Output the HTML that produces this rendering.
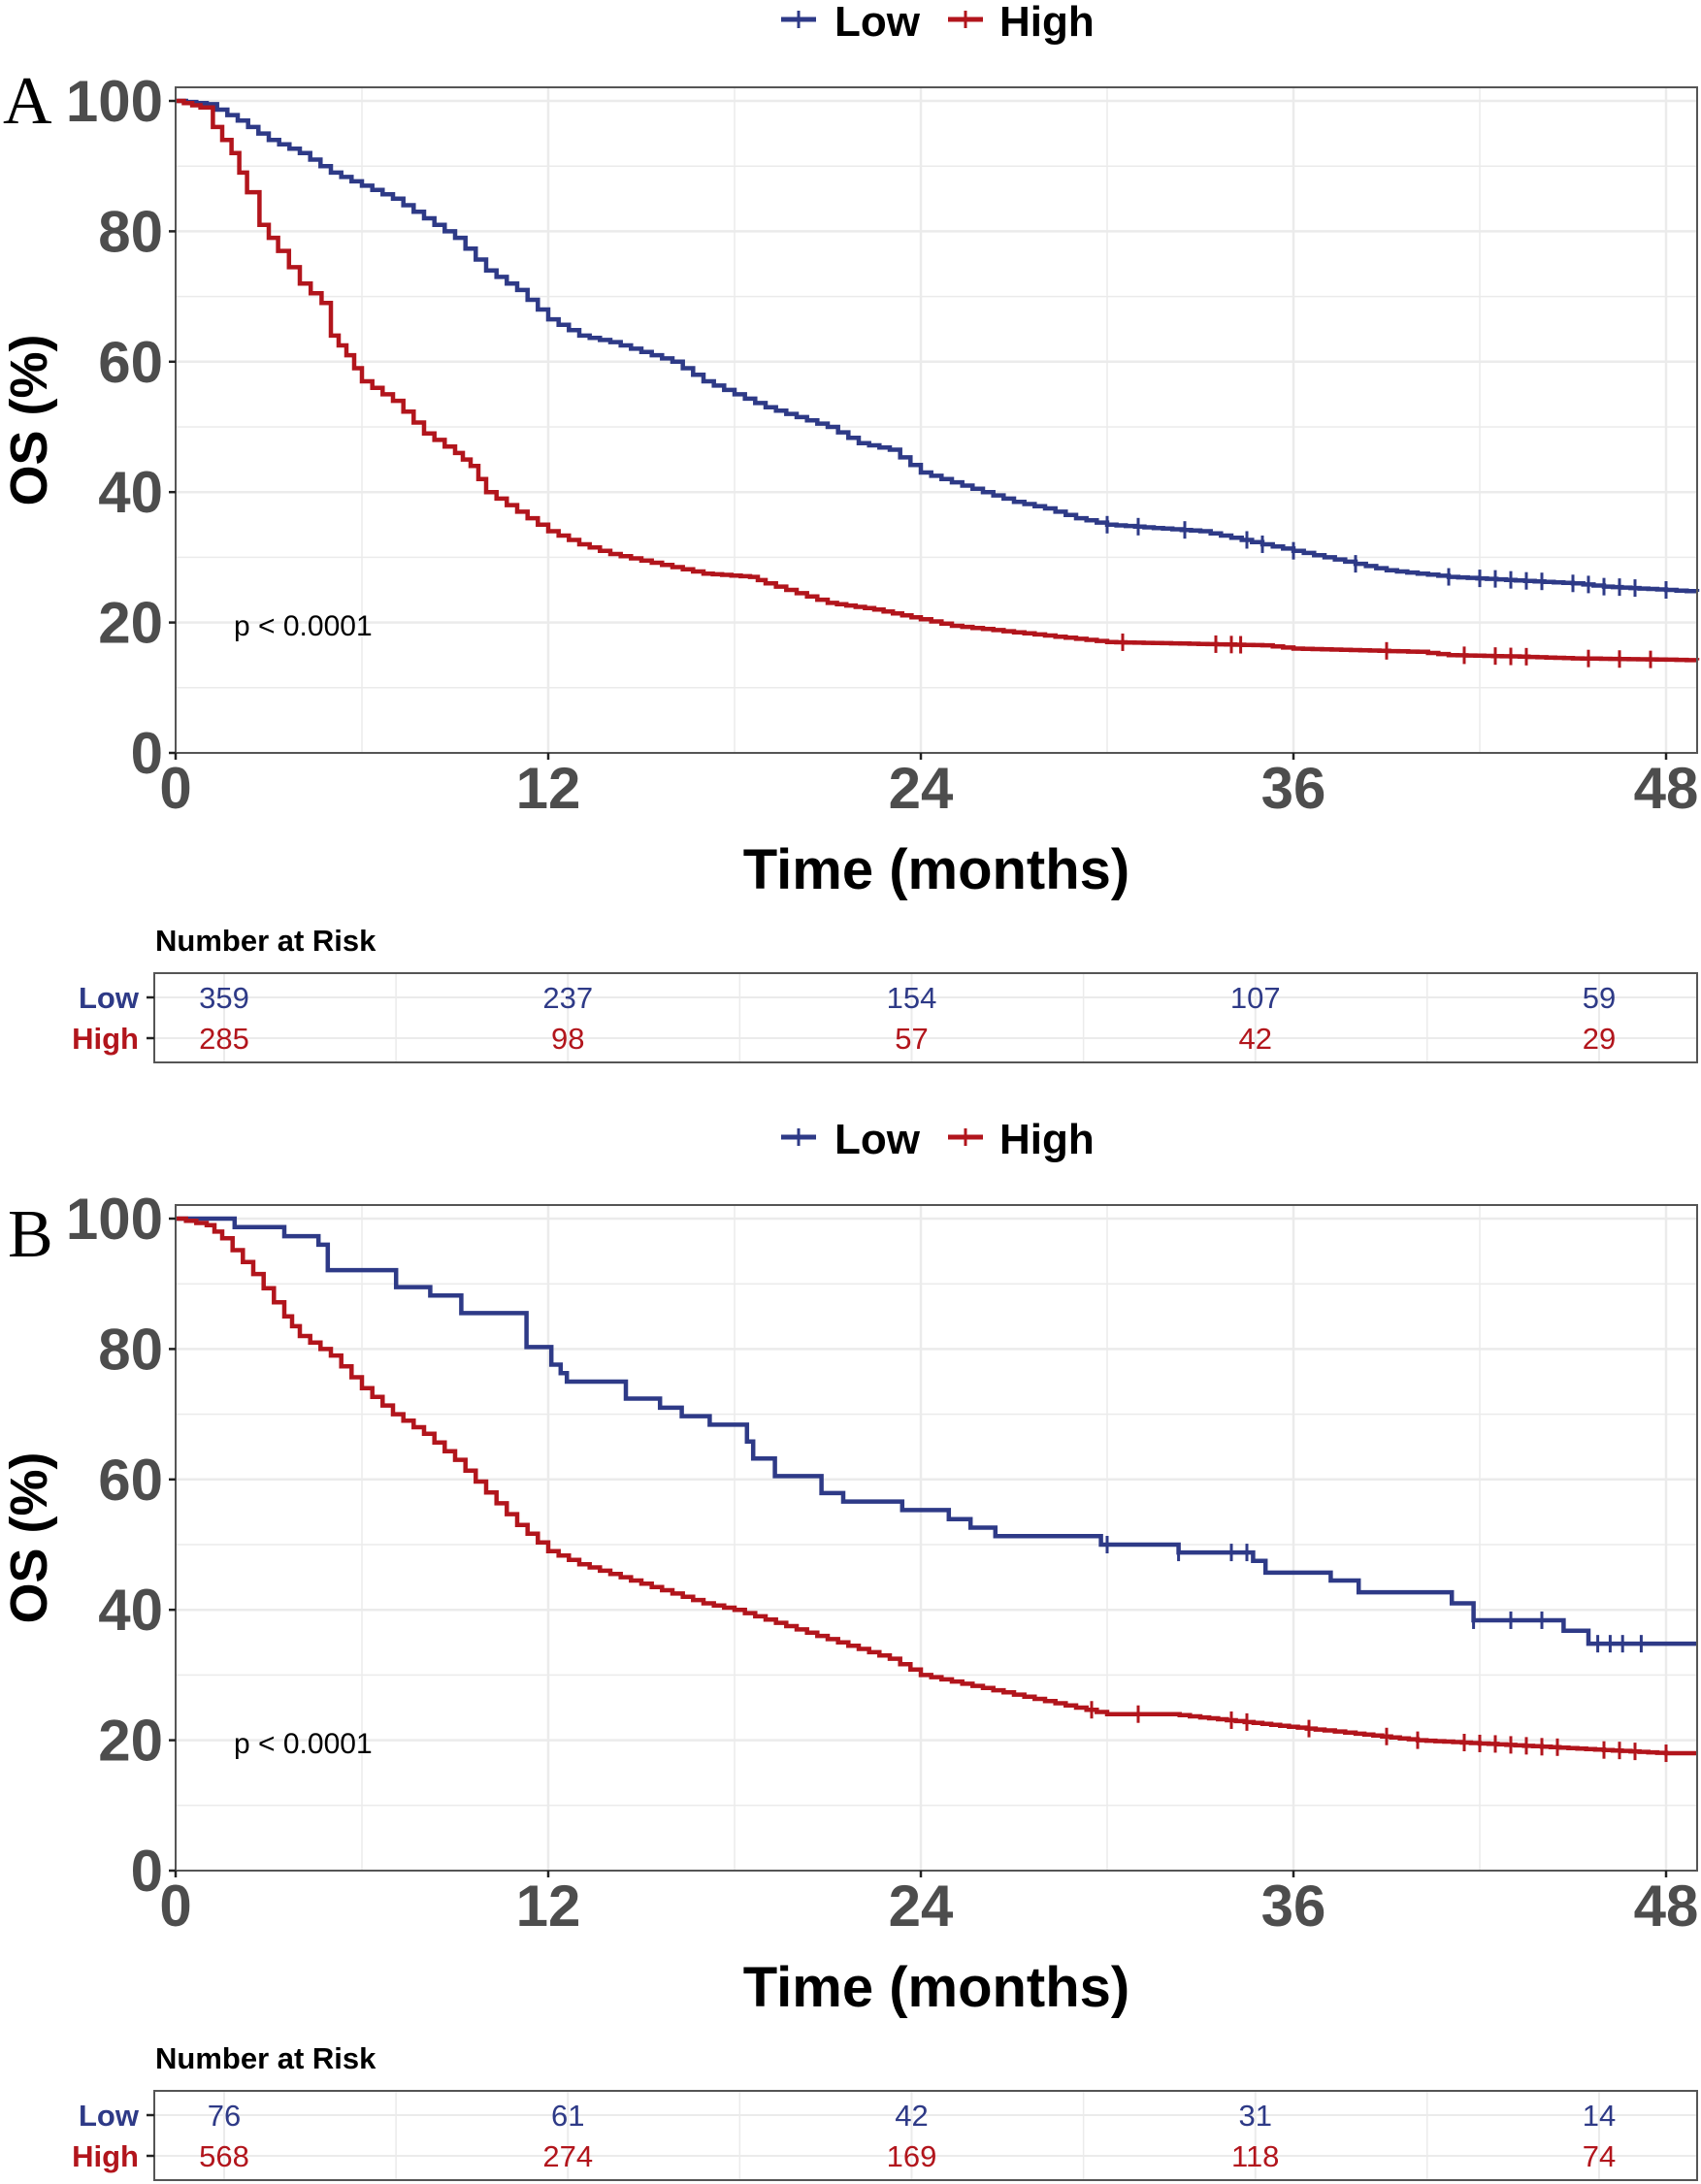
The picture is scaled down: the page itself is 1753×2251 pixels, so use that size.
<!DOCTYPE html>
<html><head><meta charset="utf-8"><style>
html,body{margin:0;padding:0;background:#fff}
svg{display:block}
</style></head><body>
<svg id="s" width="1753" height="2251" viewBox="0 0 1753 2251" xmlns="http://www.w3.org/2000/svg" font-family="Liberation Sans, Arial, sans-serif">
<rect width="1753" height="2251" fill="#fff"/>
<g id="gA"></g>
<g id="gB" transform="translate(0,1152)"></g>
<text x="3" y="127" style="font-family:'Liberation Serif',serif" font-size="70">A</text>
<text x="8" y="1295" style="font-family:'Liberation Serif',serif" font-size="70">B</text>
</svg>
<script>
const NS="http://www.w3.org/2000/svg";
const BL="#2E3A87",RD="#B2151C";
function el(p,n,a,t){const e=document.createElementNS(NS,n);for(const k in a)e.setAttribute(k,a[k]);if(t!==undefined)e.textContent=t;p.appendChild(e);return e;}
const X=m=>181+32*m, Y=v=>776-6.72*v;
function stepPath(kp,direct){
  let pts=[[0,100]];
  for(let i=1;i<kp.length;i++){
    const [m0,v0]=kp[i-1],[m1,v1]=kp[i];
    const n=direct?1:Math.max(1,Math.round((m1-m0)/0.3));
    for(let j=1;j<=n;j++){pts.push([m0+(m1-m0)*j/n, v0+(v1-v0)*j/n]);}
  }
  let d="M"+X(0)+","+Y(100);
  for(const [m,v] of pts){d+=" H"+X(m).toFixed(1)+" V"+Y(v).toFixed(1);}
  return {d,pts};
}
function valAt(pts,m){let v=100;for(const p of pts){if(p[0]<=m)v=p[1];else break;}return v;}
function panel(g,low,high,cl,ch,rl,rh,lowDirect){
  [[805,BL,"Low",860],[977,RD,"High",1030]].forEach(([x,c,t,tx])=>{
    el(g,"line",{x1:x,y1:20,x2:x+36,y2:20,stroke:c,"stroke-width":5});
    el(g,"line",{x1:x+18,y1:11,x2:x+18,y2:29,stroke:c,"stroke-width":3});
    el(g,"text",{x:tx,y:37,"font-size":44,"font-weight":"bold"},t);
  });
  for(let v=10;v<=100;v+=10)el(g,"line",{x1:181,x2:1749,y1:Y(v),y2:Y(v),stroke:"#ebebeb","stroke-width":v%20?1.5:2.5});
  for(let m=6;m<=48;m+=6)el(g,"line",{x1:X(m),x2:X(m),y1:90,y2:776,stroke:"#ebebeb","stroke-width":m%12?1.5:2.5});
  [[low,BL,cl,lowDirect],[high,RD,ch,false]].forEach(([kp,c,cens,dir])=>{
    const s=stepPath(kp,dir);
    el(g,"path",{d:s.d,fill:"none",stroke:c,"stroke-width":4.5});
    cens.forEach(m=>{const y=Y(valAt(s.pts,m));el(g,"line",{x1:X(m),x2:X(m),y1:y-9,y2:y+9,stroke:c,"stroke-width":3});});
  });
  el(g,"rect",{x:181,y:90,width:1568,height:686,fill:"none",stroke:"#555","stroke-width":2});
  for(let v=0;v<=100;v+=20){el(g,"line",{x1:174,x2:181,y1:Y(v),y2:Y(v),stroke:"#222","stroke-width":2.5});
    el(g,"text",{x:168,y:Y(v)+21,"font-size":60,"font-weight":"bold",fill:"#4d4d4d","text-anchor":"end"},v);}
  for(let m=0;m<=48;m+=12){el(g,"line",{x1:X(m),x2:X(m),y1:776,y2:783,stroke:"#222","stroke-width":2.5});
    el(g,"text",{x:X(m),y:833,"font-size":60,"font-weight":"bold",fill:"#4d4d4d","text-anchor":"middle"},m);}
  el(g,"text",{x:965,y:916,"font-size":58,"font-weight":"bold","text-anchor":"middle"},"Time (months)");
  el(g,"text",{x:0,y:0,"font-size":54,"font-weight":"bold","text-anchor":"middle",transform:"translate(48,433) rotate(-90)"},"OS (%)");
  el(g,"text",{x:241,y:655,"font-size":30},"p < 0.0001");
  el(g,"text",{x:160,y:980,"font-size":31,"font-weight":"bold"},"Number at Risk");
  const TX=m=>231+29.52*m;
  [1028,1070].forEach(y=>el(g,"line",{x1:159,x2:1749,y1:y,y2:y,stroke:"#ebebeb","stroke-width":2}));
  for(let m=0;m<=48;m+=6)el(g,"line",{x1:TX(m),x2:TX(m),y1:1003,y2:1095,stroke:"#ebebeb","stroke-width":m%12?1.5:2});
  el(g,"rect",{x:159,y:1003,width:1590,height:92,fill:"none",stroke:"#555","stroke-width":2});
  [[1028,BL,"Low",rl],[1070,RD,"High",rh]].forEach(([y,c,t,arr])=>{
    el(g,"line",{x1:151,x2:159,y1:y,y2:y,stroke:"#222","stroke-width":2.5});
    el(g,"text",{x:143,y:y+11,"font-size":31,"font-weight":"bold",fill:c,"text-anchor":"end"},t);
    arr.forEach((n,i)=>el(g,"text",{x:TX(i*12),y:y+11,"font-size":31,fill:c,"text-anchor":"middle"},n));
  });
}
const aLow=[[0,100],[1,99.5],[2,97],[3,94],[4,92],[5,89],[6,87],[7,85],[8,82],[9,79],[10,74],[11,71],[12,66.5],[13,64],[14,63],[15,61.5],[16,60],[17,57],[18,55],[19,53],[20,51.5],[21,50],[22,47.5],[23,46.5],[24,43],[25,41.5],[26,40],[27,38.5],[28,37.5],[29,36],[30,35],[33,34],[34,33],[35,32],[36,31],[37,30],[38,29],[39,28],[40,27.5],[41,27],[45,26],[46,25.5],[48,25],[49,24.7]];
const aHigh=[[0,100],[0.8,99],[1.2,96],[1.8,92],[2.3,86],[2.7,81],[3.3,77],[4,72],[4.7,69],[5,64],[5.5,61],[6,57],[7,54],[8,49],[9,46],[9.5,44],[10,40],[11,37],[12,34],[13,32],[14,30.5],[15,29.5],[16,28.5],[17,27.5],[18.5,27],[19,26],[20,24.5],[21,23],[22.5,22],[24,20.5],[25,19.5],[26,19],[27,18.5],[28,18],[29,17.5],[30,17],[35,16.5],[36,16],[40,15.5],[41,15],[43,14.8],[45,14.5],[48,14.3],[49,14.2]];
const bLow=[[0,100],[1.9,100],[1.9,98.7],[3.5,98.7],[3.5,97.3],[4.6,97.3],[4.6,96],[4.9,96],[4.9,92.1],[7.1,92.1],[7.1,89.5],[8.2,89.5],[8.2,88.2],[9.2,88.2],[9.2,85.5],[11.3,85.5],[11.3,80.3],[12.1,80.3],[12.1,77.6],[12.4,77.6],[12.4,76.3],[12.6,76.3],[12.6,75],[14.5,75],[14.5,72.4],[15.6,72.4],[15.6,71],[16.3,71],[16.3,69.7],[17.2,69.7],[17.2,68.4],[18.4,68.4],[18.4,65.8],[18.6,65.8],[18.6,63.2],[19.3,63.2],[19.3,60.5],[20.8,60.5],[20.8,57.9],[21.5,57.9],[21.5,56.6],[23.4,56.6],[23.4,55.3],[24.9,55.3],[24.9,53.9],[25.6,53.9],[25.6,52.6],[26.4,52.6],[26.4,51.3],[29.8,51.3],[29.8,50],[32.3,50],[32.3,48.8],[34.7,48.8],[34.7,47.5],[35.1,47.5],[35.1,45.7],[37.2,45.7],[37.2,44.5],[38.1,44.5],[38.1,42.7],[41.1,42.7],[41.1,41],[41.8,41],[41.8,38.4],[44.7,38.4],[44.7,36.8],[45.5,36.8],[45.5,34.8],[49,34.8]];
const bHigh=[[0,100],[1,99],[1.5,97],[2.5,91.5],[3.5,85],[4,82],[5,79],[6,74],[7,70],[8,67],[9,63],[10,58],[11,53],[12,49],[13,47],[14,45.5],[15,44],[16,42.5],[17,41],[18,40],[19,38.5],[20,37],[21,35.5],[22,34],[23,32.5],[24,30],[25,29],[26,28],[27,27],[28,26],[29,25],[30,24],[32,24],[33,23.5],[35,22.5],[37,21.5],[38,21],[40,20],[42,19.5],[44,19],[46,18.5],[48,18],[49,18]];
panel(document.getElementById("gA"),aLow,aHigh,
 [30,31,32.5,34.5,35,36,38,41,42,42.5,43,43.5,44,45,45.5,46,46.5,47,48],
 [30.5,33.5,34,34.3,39,41.5,42.5,43,43.5,45.5,46.5,47.5],
 [359,237,154,107,59],[285,98,57,42,29],false);
panel(document.getElementById("gB"),bLow,bHigh,
 [30,32.3,34,34.5,41.8,43,44,45.8,46.2,46.6,47.2],
 [29.5,31,34,34.5,36.5,39,40,41.5,42,42.5,43,43.5,44,44.5,46,46.5,47,48],
 [76,61,42,31,14],[568,274,169,118,74],true);
</script>
</body></html>
